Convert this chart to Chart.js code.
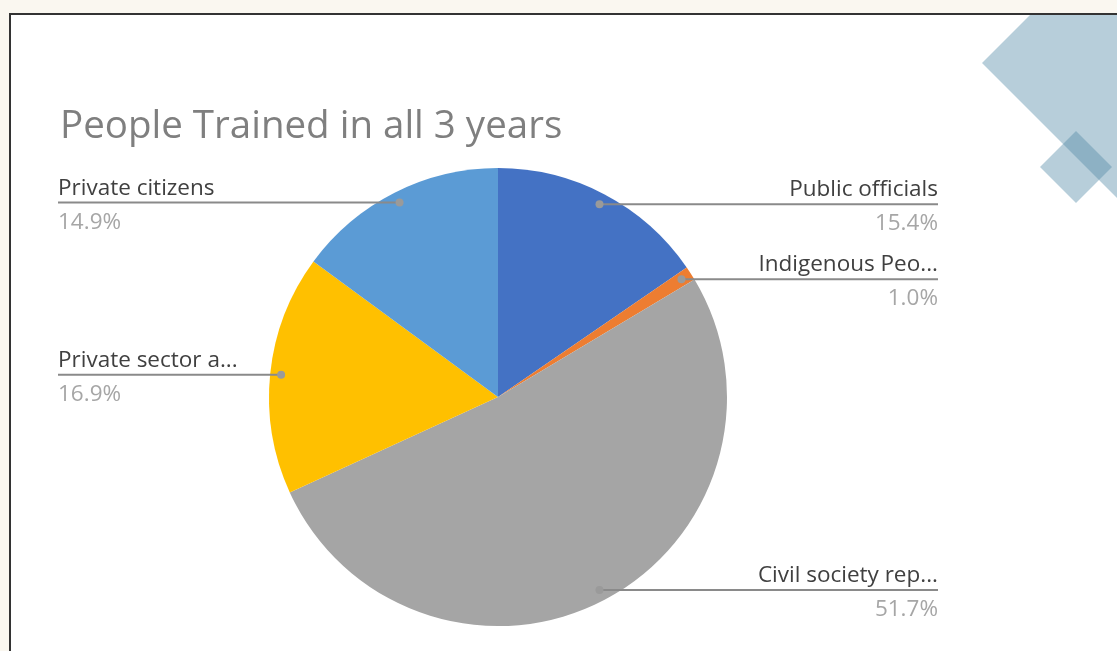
<!DOCTYPE html>
<html>
<head>
<meta charset="utf-8">
<script src="https://cdn.jsdelivr.net/npm/chart.js@4/dist/chart.umd.min.js"></script>
<style>
  html, body { margin: 0; padding: 0; background: #faf7f0; }
  #wrap { width: 1117px; height: 651px; }
</style>
</head>
<body>
<div id="wrap"><canvas id="myChart" width="1117" height="651"></canvas></div>
<script>
// Dados do gráfico
const categories = ['Public officials', 'Indigenous Peo...', 'Civil society rep...', 'Private sector a...', 'Private citizens'];
const shares = [15.4, 1.0, 51.7, 16.9, 14.9];
const sliceColors = ['#4472c4', '#ed7d31', '#a5a5a5', '#ffc000', '#5b9bd5'];
const chartTitle = 'People Trained in all 3 years';

// Fundo do slide: painel branco com borda e losangos decorativos
const slideBackground = {
    id: 'slideBackground',
    beforeDraw(chart) {
        const ctx = chart.ctx;
        ctx.save();
        ctx.fillStyle = '#faf7f0';
        ctx.fillRect(0, 0, chart.width, chart.height);
        ctx.fillStyle = '#ffffff';
        ctx.fillRect(10, 14, chart.width, chart.height);

        // losangos
        ctx.beginPath();
        ctx.rect(11, 15, chart.width, chart.height);
        ctx.clip();
        const diamond = (cx, cy, h) => {
            ctx.beginPath();
            ctx.moveTo(cx - h, cy);
            ctx.lineTo(cx, cy - h);
            ctx.lineTo(cx + h, cy);
            ctx.lineTo(cx, cy + h);
            ctx.closePath();
            ctx.fill();
        };
        ctx.fillStyle = 'rgba(84, 139, 166, 0.42)';
        diamond(1182, 63, 200);
        diamond(1076, 167, 36);
        ctx.restore();

        ctx.save();
        ctx.strokeStyle = '#333333';
        ctx.lineWidth = 2;
        ctx.beginPath();
        ctx.moveTo(10, chart.height + 5);
        ctx.lineTo(10, 14);
        ctx.lineTo(chart.width + 5, 14);
        ctx.stroke();
        ctx.restore();
    }
};

// Rótulos com linhas de chamada
const leaderLabels = {
    id: 'leaderLabels',
    afterDatasetsDraw(chart) {
        const ctx = chart.ctx;
        const meta = chart.getDatasetMeta(0);
        const font = '22.5px "Open Sans", sans-serif';
        meta.data.forEach((arc, i) => {
            const p = arc.getProps(['x', 'y', 'startAngle', 'endAngle', 'outerRadius'], true);
            const mid = (p.startAngle + p.endAngle) / 2;
            const d = p.outerRadius * 0.952;
            const px = p.x + Math.cos(mid) * d;
            const py = p.y + Math.sin(mid) * d;
            const right = Math.cos(mid) >= 0;
            const edge = right ? 938 : 58;

            ctx.save();
            ctx.strokeStyle = '#8a8a8a';
            ctx.lineWidth = 2;
            ctx.beginPath();
            ctx.moveTo(px, py);
            ctx.lineTo(edge, py);
            ctx.stroke();

            ctx.fillStyle = '#9a9a9a';
            ctx.beginPath();
            ctx.arc(px, py, 4, 0, Math.PI * 2);
            ctx.fill();

            ctx.font = font;
            ctx.textAlign = right ? 'right' : 'left';
            ctx.textBaseline = 'alphabetic';
            ctx.fillStyle = '#404040';
            ctx.fillText(chart.data.labels[i], edge, py - 8);
            ctx.fillStyle = '#a6a6a6';
            ctx.fillText(shares[i].toFixed(1) + '%', edge, py + 26);
            ctx.restore();
        });
    }
};

const ctx = document.getElementById('myChart').getContext('2d');
new Chart(ctx, {
    type: 'pie',
    data: {
        labels: categories,
        datasets: [{
            data: shares,
            backgroundColor: sliceColors,
            borderWidth: 0,
            radius: 229
        }]
    },
    options: {
        responsive: false,
        animation: false,
        layout: {
            padding: { left: 60, right: 181, top: 0, bottom: 17 }
        },
        plugins: {
            legend: { display: false },
            tooltip: { enabled: false },
            title: {
                display: true,
                text: chartTitle,
                align: 'start',
                color: '#7f7f7f',
                font: { family: '"Open Sans", sans-serif', size: 38.5, weight: 'normal' },
                padding: { top: 104, bottom: 10 }
            }
        }
    },
    plugins: [slideBackground, leaderLabels]
});
</script>
</body>
</html>
